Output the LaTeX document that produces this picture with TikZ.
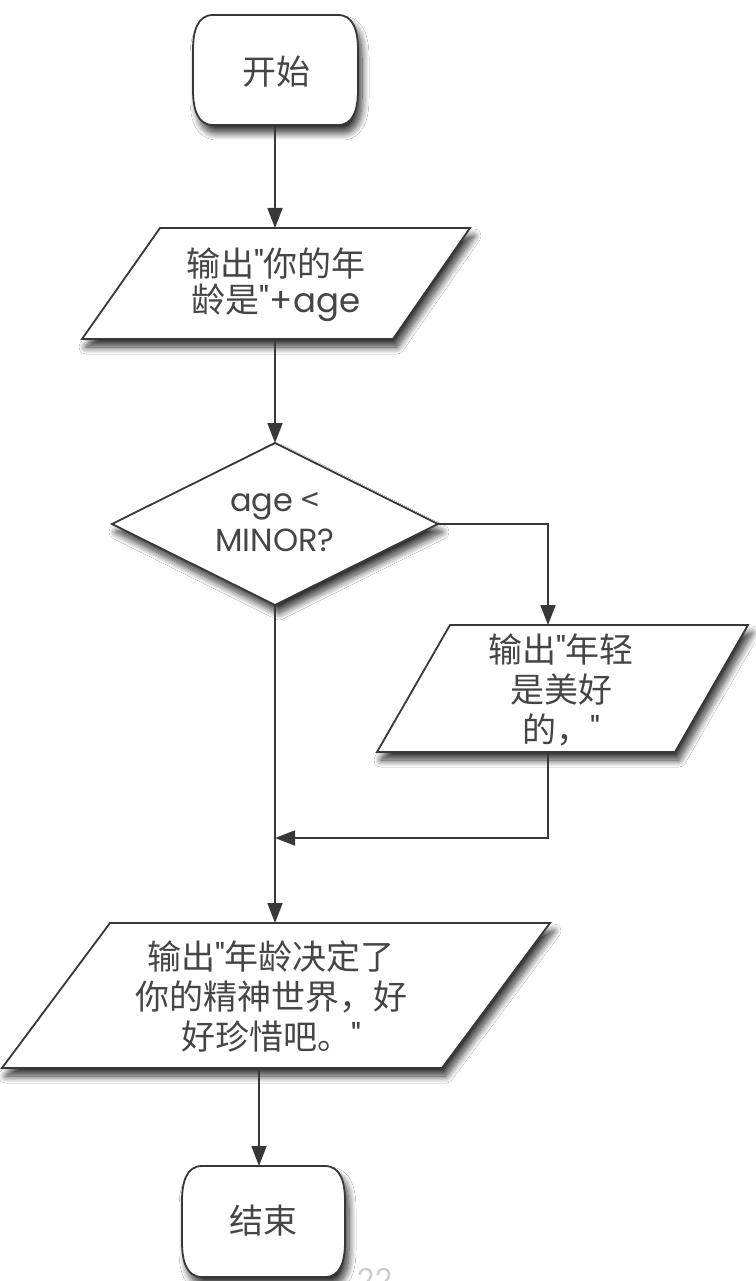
\documentclass[tikz,border=0pt]{standalone}
\usepackage{fontspec}
\newfontfamily\cjk{Noto Sans CJK SC}
\newfontfamily\lat{Poppins}
\usetikzlibrary{arrows.meta,shadows.blur}
\definecolor{linec}{HTML}{383838}
\definecolor{textc}{HTML}{454545}
\definecolor{pagec}{HTML}{CCCCCC}
\begin{document}
\begin{tikzpicture}[x=1pt,y=-1pt,
  boxsh/.style={draw=linec, line width=1.8pt, fill=white, line join=miter,
    blur shadow={shadow xshift=4pt, shadow yshift=-8pt, shadow blur steps=12,
      shadow blur radius=7pt, shadow opacity=80}},
  conn/.style={draw=linec, line width=1.8pt},
  arr/.style={conn, -{Triangle[length=20pt,width=15pt]}},
  cjktxt/.style={font=\cjk\fontsize{34}{40}\selectfont, text=textc, align=center, inner sep=0pt},
  lattxt/.style={font=\lat\fontsize{32}{40}\selectfont, text=textc, align=center, inner sep=0pt}]
\useasboundingbox (0,0) rectangle (755,1281);
\fill[white] (0,0) rectangle (755,1281);

% start terminal
\path[boxsh] (213,15) -- (338,15) .. controls (353,15) and (358,30) .. (358,50)
  -- (358,90) .. controls (358,110) and (353,125) .. (338,125) -- (213,125)
  .. controls (198,125) and (193,110) .. (193,90) -- (193,50)
  .. controls (193,30) and (198,15) .. (213,15) -- cycle;
\node[cjktxt] (start) at (276,72) {开始};

% output 1
\path[boxsh] (160,228) -- (470,228) -- (393,339) -- (82,339) -- cycle;
\node[cjktxt, font=\cjk\fontsize{34}{36}\selectfont] (out1) at (276,285)
  {输出{\lat"}你的年\\龄是{\lat"+age}};

% decision
\path[boxsh] (275,443) -- (438,524) -- (275,605) -- (112,524) -- cycle;
\node[lattxt] (dec) at (275,522) {age {\cjk <}\\MINOR?};

% output 2
\path[boxsh] (450,625) -- (748,625) -- (675,752) -- (377,752) -- cycle;
\node[cjktxt] (out2) at (561,690) {输出{\lat"}年轻\\是美好\\的，{\lat"}};

% output 3
\path[boxsh] (110,923) -- (550,923) -- (442,1068) -- (2,1068) -- cycle;
\node[cjktxt] (out3) at (271,996) {输出{\lat"}年龄决定了\\你的精神世界，好\\好珍惜吧。{\lat"}};

% end terminal
\path[boxsh] (202,1166) -- (325,1166) .. controls (340,1166) and (345,1181) .. (345,1201)
  -- (345,1242) .. controls (345,1262) and (340,1277) .. (325,1277) -- (202,1277)
  .. controls (187,1277) and (182,1262) .. (182,1242) -- (182,1201)
  .. controls (182,1181) and (187,1166) .. (202,1166) -- cycle;
\node[cjktxt] (stop) at (263,1221) {结束};

% page number
\node[font=\lat\fontsize{30}{30}\selectfont, text=pagec, anchor=base, inner sep=0pt] (pg) at (375,1290) {22};

% anchor coordinates
\coordinate (start-s) at (275,125);
\coordinate (out1-n) at (275,228);
\coordinate (out1-s) at (275,339);
\coordinate (dec-n) at (275,443);
\coordinate (dec-e) at (438,524);
\coordinate (dec-s) at (275,605);
\coordinate (out2-n) at (548,625);
\coordinate (out2-s) at (548,752);
\coordinate (join) at (275,838);
\coordinate (out3-n) at (275,923);
\coordinate (out3-s) at (259,1068);
\coordinate (stop-n) at (259,1166);

% connectors
\draw[arr] (start-s) -- (out1-n);
\draw[arr] (out1-s) -- (dec-n);
\draw[arr] (dec-e) -| (out2-n);
\draw[arr] (out2-s) |- (join);
\draw[arr] (dec-s) -- (out3-n);
\draw[arr] (out3-s) -- (stop-n);
\end{tikzpicture}
\end{document}
